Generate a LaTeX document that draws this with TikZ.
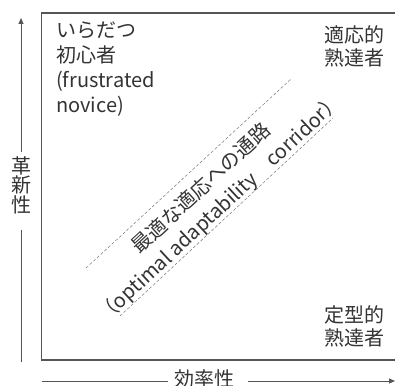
\documentclass[tikz,border=0pt]{standalone}
\usepackage{fontspec}
\setmainfont{Noto Sans CJK JP}
\usetikzlibrary{arrows.meta}
\definecolor{ink}{HTML}{333333}
\definecolor{frame}{HTML}{555555}
\begin{document}
\begin{tikzpicture}[x=1pt,y=-1pt,
  lbl/.style={text=ink,inner sep=0pt,font=\fontsize{20}{25}\selectfont},
  axis/.style={draw=frame,line width=0.9pt},
  corr/.style={draw=frame!80,line width=0.5pt,dash pattern=on 3pt off 2pt}]
\useasboundingbox (0,0) rectangle (395,385);
% frame (open to the right)
\coordinate (ftr) at (400,13);
\coordinate (ftl) at (41.5,13);
\coordinate (fbl) at (41.5,360);
\coordinate (fbr) at (400,360);
\draw[draw=frame,line width=1.4pt] (ftr) -- (ftl) -- (fbl) -- (fbr);
% labels
\node[lbl,anchor=north west,align=left] (novice) at (56,22)
  {いらだつ\\初心者\\(frustrated\\novice)};
\node[lbl,anchor=north west,align=left,font=\fontsize{20}{23}\selectfont] (adaptive) at (324,25)
  {適応的\\熟達者};
\node[lbl,anchor=north west,align=left,font=\fontsize{20}{23}\selectfont] (routine) at (324,305)
  {定型的\\熟達者};
% corridor
\coordinate (u1) at (86,268);
\coordinate (u2) at (291,79);
\coordinate (l1) at (120,316);
\coordinate (l2) at (333,118);
\draw[corr] (u1) -- (u2);
\draw[corr] (l1) -- (l2);
\node[lbl,rotate=42.8,align=center,font=\fontsize{20}{27}\selectfont] (corridor) at (211,199)
  {最適な適応への通路\\（optimal adaptability　corridor）};
% y axis
\node[lbl,align=center,font=\fontsize{20}{17.5}\selectfont] (ylab) at (21,185) {革\\新\\性};
\coordinate (ybot) at (21,362);
\coordinate (ytop) at (21,18);
\draw[axis] (ybot) -- ([yshift=-16pt]ylab.south);
\draw[axis,-{Triangle[length=6pt,width=5pt]}] ([yshift=4pt]ylab.north) -- (ytop);
% x axis
\node[lbl] (xlab) at (204,379) {効率性};
\coordinate (xl) at (42,381);
\coordinate (xr) at (395,381);
\draw[axis] (xl) -- ([xshift=-6pt]xlab.west |- xl);
\draw[axis,-{Triangle[length=6pt,width=5pt]}] ([xshift=14pt]xlab.east |- xr) -- (xr);
\end{tikzpicture}
\end{document}
